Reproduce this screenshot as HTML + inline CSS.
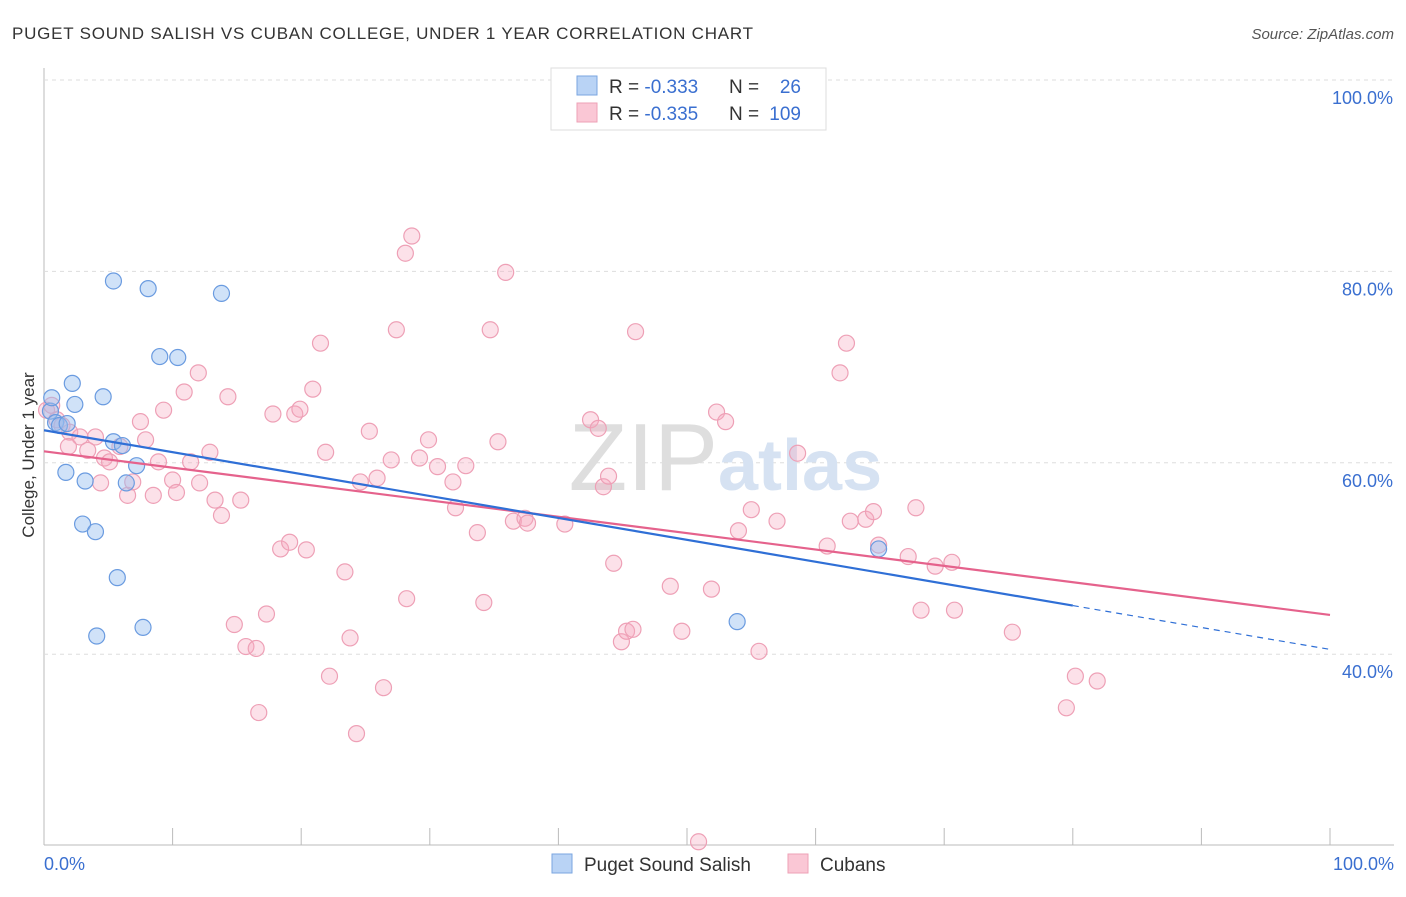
<!DOCTYPE html>
<html><head><meta charset="utf-8"><style>
body{margin:0;background:#fff;font-family:"Liberation Sans",sans-serif;}
svg text{font-family:"Liberation Sans",sans-serif;}
</style></head><body>
<svg id="chart" width="1406" height="892" viewBox="0 0 1406 892" xmlns="http://www.w3.org/2000/svg">
<text x="12" y="39" font-size="17" fill="#333" textLength="741">PUGET SOUND SALISH VS CUBAN COLLEGE, UNDER 1 YEAR CORRELATION CHART</text>
<text x="1394" y="39" font-size="15" fill="#555" font-style="italic" text-anchor="end">Source: ZipAtlas.com</text>
<g id="grid"></g>
<text x="718" y="490" font-size="96" fill="#dedede" font-family="Liberation Serif" text-anchor="end">ZIP</text>
<text x="718" y="490" font-size="72" fill="#d6e2f2" font-weight="bold">atlas</text>
<text transform="translate(34,455) rotate(-90)" font-size="17" fill="#333" text-anchor="middle">College, Under 1 year</text>
<g id="points"></g>
<g id="lines"></g>
<g>
<rect x="551" y="68" width="275" height="62" fill="#fff" stroke="#ddd"/>
<rect x="577" y="76" width="20" height="19" fill="#b9d3f5" stroke="#7aa6e0"/>
<rect x="577" y="103" width="20" height="19" fill="#fac7d5" stroke="#eea0b6"/>
<text x="609" y="93" font-size="19" fill="#333">R = <tspan fill="#3a6fd0">-0.333</tspan></text>
<text x="729" y="93" font-size="19" fill="#333">N =</text>
<text x="801" y="93" font-size="19" fill="#3a6fd0" text-anchor="end">26</text>
<text x="609" y="120" font-size="19" fill="#333">R = <tspan fill="#3a6fd0">-0.335</tspan></text>
<text x="729" y="120" font-size="19" fill="#333">N =</text>
<text x="801" y="120" font-size="19" fill="#3a6fd0" text-anchor="end">109</text>
</g>
<g>
<rect x="552" y="854" width="20" height="19" fill="#b9d3f5" stroke="#7aa6e0"/>
<text x="584" y="871" font-size="19" fill="#333">Puget Sound Salish</text>
<rect x="788" y="854" width="20" height="19" fill="#fac7d5" stroke="#eea0b6"/>
<text x="820" y="871" font-size="19" fill="#333">Cubans</text>
</g>
<text x="44" y="870" font-size="18" fill="#3a6fd0">0.0%</text>
<text x="1394" y="870" font-size="18" fill="#3a6fd0" text-anchor="end">100.0%</text>
</svg>
<script>
const yTicks=[100,80,60,40];
const yTickLabels=["100.0%","80.0%","60.0%","40.0%"];
const blueX=[0.5,0.6,0.9,1.2,1.8,2.2,2.4,1.7,3.2,3.0,4.0,4.6,5.4,8.1,13.8,9.0,10.4,5.4,6.1,7.2,6.4,5.7,4.1,7.7,53.9,64.9];
const blueY=[65.4,66.8,64.2,63.9,64.1,68.3,66.1,59.0,58.1,53.6,52.8,66.9,79.0,78.2,77.7,71.1,71.0,62.2,61.8,59.7,57.9,48.0,41.9,42.8,43.4,51.0];
const pinkX=[0.2,0.6,1.0,1.4,2.0,2.8,1.9,3.4,4.0,4.4,4.7,5.1,5.9,6.5,6.9,7.5,7.9,8.5,8.9,9.3,10.0,10.3,10.9,11.4,12.0,12.1,12.9,13.3,13.8,14.3,14.8,15.3,15.7,16.5,16.7,17.3,17.8,18.4,19.1,19.5,19.9,20.4,20.9,21.5,21.9,22.2,23.4,23.8,24.3,24.6,25.3,25.9,26.4,27.0,27.4,28.1,28.2,28.6,29.2,29.9,30.6,31.8,32.0,32.8,33.7,34.2,34.7,35.3,35.9,36.5,37.4,37.6,40.5,42.5,43.1,43.5,43.9,44.3,44.9,45.3,45.8,46.0,48.7,49.6,50.9,51.9,52.3,53.0,54.0,55.0,55.6,57.0,58.6,60.9,61.9,62.4,62.7,63.9,64.5,64.9,67.2,67.8,68.2,69.3,70.6,70.8,75.3,79.5,80.2,81.9];
const pinkY=[65.5,66.0,64.5,63.9,63.2,62.7,61.7,61.3,62.7,57.9,60.5,60.1,61.7,56.6,58.0,64.3,62.4,56.6,60.1,65.5,58.2,56.9,67.4,60.1,69.4,57.9,61.1,56.1,54.5,66.9,43.1,56.1,40.8,40.6,33.9,44.2,65.1,51.0,51.7,65.1,65.6,50.9,67.7,72.5,61.1,37.7,48.6,41.7,31.7,58.0,63.3,58.4,36.5,60.3,73.9,81.9,45.8,83.7,60.5,62.4,59.6,58.0,55.3,59.7,52.7,45.4,73.9,62.2,79.9,53.9,54.2,53.7,53.6,64.5,63.6,57.5,58.6,49.5,41.3,42.4,42.6,73.7,47.1,42.4,20.4,46.8,65.3,64.3,52.9,55.1,40.3,53.9,61.0,51.3,69.4,72.5,53.9,54.1,54.9,51.4,50.2,55.3,44.6,49.2,49.6,44.6,42.3,34.4,37.7,37.2];
const blueTrend=[63.4,40.5];
const blueSolidEnd=80;
const pinkTrend=[61.2,44.1];
const xTicks=[0,10,20,30,40,50,60,70,80,90,100];

const NS="http://www.w3.org/2000/svg";
const sx=v=>44+v*12.86;
const sy=v=>1037-v*9.57;
function mk(tag,attrs,parent){const e=document.createElementNS(NS,tag);for(const k in attrs)e.setAttribute(k,attrs[k]);parent.appendChild(e);return e;}
const grid=document.getElementById('grid');
const ax=mk('line',{x1:44,y1:68,x2:44,y2:845,stroke:'#bbb'},grid);


const bx=mk('line',{x1:44,y1:845,x2:1394,y2:845,stroke:'#bbb'},grid);


yTicks.forEach((t,i)=>{
  const g=mk('line',{x1:44,x2:1394,y1:sy(t),y2:sy(t),stroke:'#ddd','stroke-dasharray':'4,4'},grid);
  
  
  const tx=mk('text',{x:1393,y:sy(t)+24,'font-size':18,fill:'#3a6fd0','text-anchor':'end'},grid);
  tx.textContent=yTickLabels[i];
  
  
});
xTicks.forEach(t=>{
  const l=mk('line',{x1:sx(t),x2:sx(t),y1:828,y2:845,stroke:'#bbb'},grid);
  
  
});
const pts=document.getElementById('points');
pinkX.forEach((x,i)=>{
  const c=mk('circle',{cx:sx(x),cy:sy(pinkY[i]),r:8,fill:'rgba(246,170,192,0.35)',stroke:'#eea0b6','stroke-width':1.2},pts);
  
  
});
blueX.forEach((x,i)=>{
  const c=mk('circle',{cx:sx(x),cy:sy(blueY[i]),r:8,fill:'rgba(150,190,240,0.45)',stroke:'#6a9be0','stroke-width':1.2},pts);
  
  
});
const lines=document.getElementById('lines');
const bAt=x=>blueTrend[0]+(blueTrend[1]-blueTrend[0])*x/100;
const pl=mk('line',{x1:sx(0),y1:sy(pinkTrend[0]),x2:sx(100),y2:sy(pinkTrend[1]),stroke:'#e5628c','stroke-width':2.2},lines);


const bl=mk('line',{x1:sx(0),y1:sy(bAt(0)),x2:sx(blueSolidEnd),y2:sy(bAt(blueSolidEnd)),stroke:'#2f6fd6','stroke-width':2.2},lines);


const bd=mk('line',{x1:sx(blueSolidEnd),y1:sy(bAt(blueSolidEnd)),x2:sx(100),y2:sy(bAt(100)),stroke:'#2f6fd6','stroke-width':1.2,'stroke-dasharray':'6,5'},lines);


</script>
</body></html>
